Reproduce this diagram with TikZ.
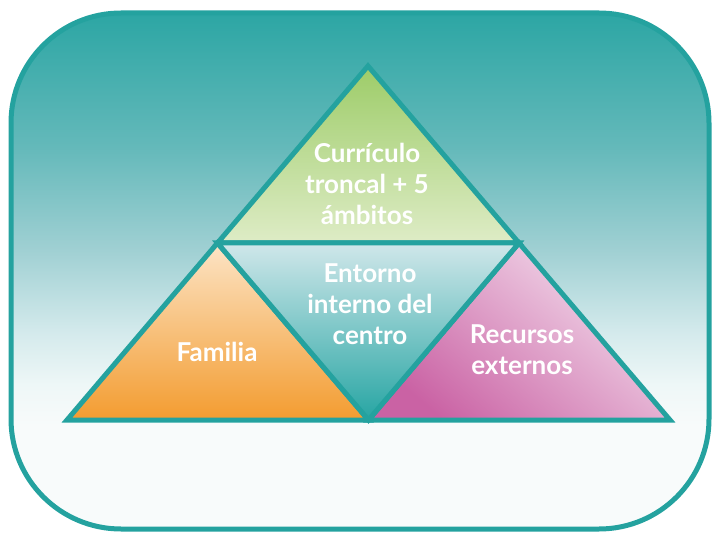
\documentclass[tikz,border=0pt]{standalone}
\usepackage{fontspec}
\setmainfont{Lato}
\usepackage{tikz}
\usetikzlibrary{calc}

\definecolor{tealline}{RGB}{36,162,159}
\definecolor{bgtop}{RGB}{44,166,164}
\definecolor{bgmid}{RGB}{100,185,186}
\definecolor{bglight}{RGB}{160,208,211}
\definecolor{bgpale}{RGB}{212,234,236}
\definecolor{bgfaint}{RGB}{238,247,247}
\definecolor{paper}{RGB}{248,251,251}
\definecolor{greentop}{RGB}{157,204,104}
\definecolor{greenbottom}{RGB}{222,236,198}
\definecolor{orangetop}{RGB}{252,228,198}
\definecolor{orangebottom}{RGB}{243,156,48}
\definecolor{pinkdark}{RGB}{202,98,164}
\definecolor{pinklight}{RGB}{244,224,238}
\definecolor{midtop}{RGB}{208,231,234}
\definecolor{midbottom}{RGB}{38,165,163}

\pgfdeclareverticalshading{backshade}{100bp}{
    color(0bp)=(paper); color(35bp)=(paper); color(39bp)=(bgfaint);
    color(44bp)=(bgpale); color(52bp)=(bglight); color(62bp)=(bgmid);
    color(75bp)=(bgtop); color(100bp)=(bgtop)}

\tikzset{
    frame/.style = {
        draw=tealline,
        line width=5pt,
        rounded corners=110pt,
        shading=backshade
    },
    piece/.style = {
        draw=tealline,
        line width=5pt
    },
    pyramidtext/.style = {
        align=center,
        text=white,
        font=\bfseries\fontsize{26}{31}\selectfont,
        inner sep=0pt
    }
}

\begin{document}
\begin{tikzpicture}[x=1pt, y=-1pt]
    \useasboundingbox (0,0) rectangle (712,534);
    \shadedraw[frame] (11,13) rectangle (709,529);

    % corners of the pyramid
    \coordinate (apex)  at (368,66);
    \coordinate (left)  at (67,420);
    \coordinate (right) at (670,420);
    \coordinate (midl)  at ($(apex)!0.5!(left)$);
    \coordinate (midr)  at ($(apex)!0.5!(right)$);
    \coordinate (midb)  at ($(left)!0.5!(right)$);

    \shadedraw[piece, top color=greentop, bottom color=greenbottom]
        (apex) -- (midl) -- (midr) -- cycle;
    \shadedraw[piece, top color=orangetop, bottom color=orangebottom]
        (midl) -- (left) -- (midb) -- cycle;
    \shadedraw[piece, top color=pinklight, bottom color=pinkdark, shading angle=-40]
        (midr) -- (midb) -- (right) -- cycle;
    \shadedraw[piece, top color=midtop, bottom color=midbottom]
        (midl) -- (midr) -- (midb) -- cycle;

    \node[pyramidtext] (curriculo) at (367,184) {Currículo\\troncal + 5\\ámbitos};
    \node[pyramidtext] (entorno)   at (370,304) {Entorno\\interno del\\centro};
    \node[pyramidtext] (familia)   at (217,352) {Familia};
    \node[pyramidtext] (recursos)  at (522,350) {Recursos\\externos};
\end{tikzpicture}
\end{document}
